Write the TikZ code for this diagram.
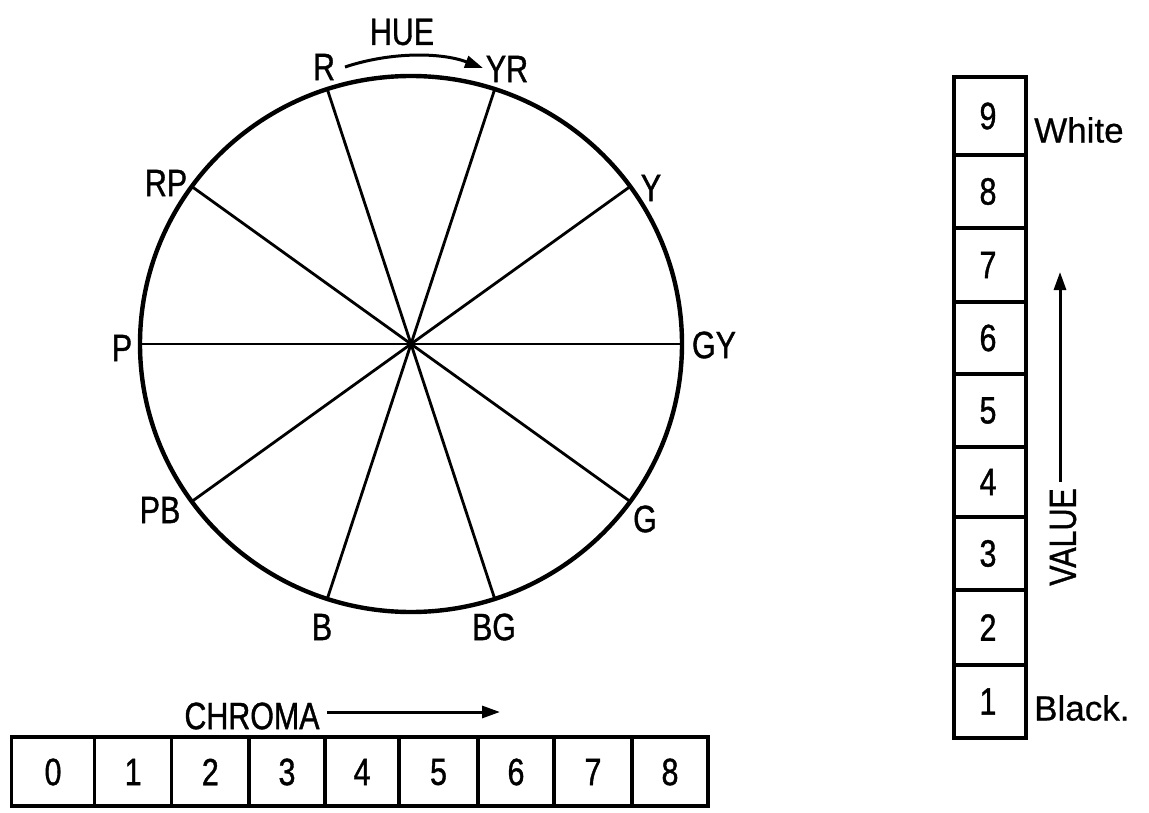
\documentclass[tikz,border=0pt]{standalone}
\usepackage{fontspec}
\setmainfont{Liberation Sans}
\newfontfamily\lab[FakeStretch=0.8,FakeBold=1]{Liberation Sans}
\newfontfamily\wrd[FakeBold=0.6]{Liberation Sans}
\usetikzlibrary{arrows.meta}
\tikzset{
  lbl/.style={font=\lab\fontsize{38}{40}\selectfont, inner sep=0pt},
  dig/.style={font=\lab\fontsize{38}{40}\selectfont, inner sep=0pt},
  word/.style={font=\wrd\fontsize{35}{37}\selectfont, inner sep=0pt, anchor=west},
  rim/.style={line width=4.4pt},
  spoke/.style={line width=2.8pt},
  cell/.style={line width=3.4pt},
  arr/.style={line width=3pt, -{Triangle[length=18pt,width=12pt]}}
}
\begin{document}
\begin{tikzpicture}[x=1pt,y=-1pt]
\useasboundingbox (0,0) rectangle (1149,813);
% circle
\coordinate (O) at (411,344);
\draw[rim] (O) ellipse [x radius=271, y radius=268];
\foreach \n/\a in {GY/0,Y/36,YR/72,R/108,RP/144,P/180,PB/216,B/252,BG/288,G/324}{
  \coordinate (h\n) at ({411+271*cos(\a)},{344-268*sin(\a)});
}
\draw[spoke] (hR) -- (hBG);
\draw[spoke] (hYR) -- (hB);
\draw[spoke] (hY) -- (hPB);
\draw[spoke] (hGY) -- (hP);
\draw[spoke] (hG) -- (hRP);
% hue labels
\node[lbl] (lR) at (324,67) {R};
\node[lbl] (lYR) at (507,69) {YR};
\node[lbl] (lY) at (651,188) {Y};
\node[lbl] (lGY) at (714,345) {GY};
\node[lbl] (lG) at (645,519) {G};
\node[lbl] (lBG) at (494,627) {BG};
\node[lbl] (lB) at (322,627) {B};
\node[lbl] (lPB) at (160,510) {PB};
\node[lbl] (lP) at (122,348) {P};
\node[lbl] (lRP) at (166,183) {RP};
\node[lbl] (lHUE) at (402,32) {HUE};
\coordinate (hs) at (345,67);
\coordinate (he) at (483,68);
\draw[arr] (hs) .. controls (390,52) and (440,52) .. (he);
% chroma
\node[lbl] (lCH) at (252,716) {CHROMA};
\coordinate (cs) at (327,712);
\coordinate (ce) at (500,712);
\draw[arr] (cs) -- (ce);
\foreach \d/\l/\r in {0/11.5/94.6,1/94.6/171.7,2/171.7/249,3/249/325,4/325/399,5/399/478,6/478/554,7/554/632,8/632/708}{
  \draw[cell] (\l,737) rectangle (\r,806);
  \node[dig] (c\d) at ({(\l+\r)/2},772) {\d};
}
% value
\foreach \d/\t/\b in {9/77/155,8/155/228,7/228/302,6/302/374,5/374/447,4/447/517,3/517/590,2/590/665,1/665/738}{
  \draw[cell] (954,\t) rectangle (1026,\b);
  \node[dig] (v\d) at (988,{(\t+\b)/2}) {\d};
}
\node[word] (lW) at (1034,130) {White};
\node[word] (lBk) at (1034,708) {Black.};
\coordinate (vs) at (1060,482);
\coordinate (ve) at (1060,272);
\draw[arr] (vs) -- (ve);
\node[lbl, rotate=90] (lV) at (1063,537) {VALUE};
\end{tikzpicture}
\end{document}
